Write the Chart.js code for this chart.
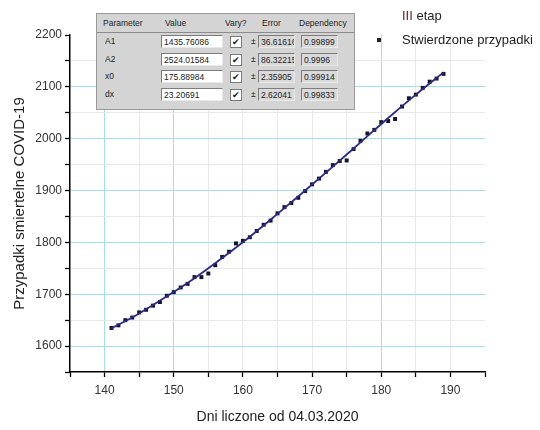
<!DOCTYPE html>
<html lang="pl">
<head>
  <meta charset="UTF-8" />
  <title>Przypadki smiertelne COVID-19 - III etap</title>
  <script src="https://cdn.jsdelivr.net/npm/chart.js"></script>
  <style>
    body {
      margin: 0;
      background: #ffffff;
      font-family: 'Liberation Sans', Arial, sans-serif;
    }
    #wrap {
      position: relative;
      width: 540px;
      height: 430px;
    }
    #fitBox {
      position: absolute;
      left: 96px;
      top: 13px;
      width: 257px;
      height: 95px;
      background: #d4d4d4;
      border: 1px solid #9a9a9a;
      font-size: 8.5px;
      color: #222;
    }
    #fitBox .hdr {
      position: absolute;
      top: 0;
      left: 0;
      right: 0;
      height: 18px;
      border-bottom: 1px solid #8c8c8c;
    }
    #fitBox span {
      position: absolute;
      white-space: nowrap;
      overflow: hidden;
      line-height: 13px;
    }
    #fitBox .field {
      height: 13px;
      padding-left: 2px;
      box-sizing: border-box;
      border: 1px solid #7c7c7c;
      border-right-color: #e8e8e8;
      border-bottom-color: #e8e8e8;
    }
    #fitBox .white { background: #ffffff; }
    #fitBox .grey { background: #d9d9d9; }
    #fitBox .chk {
      width: 10px;
      height: 10px;
      line-height: 10px;
      background: #fff;
      border: 1px solid #7c7c7c;
      text-align: center;
      font-size: 9px;
    }
  </style>
</head>
<body>
<div id="wrap">
  <canvas id="deathsChart"></canvas>
  <div id="fitBox"><div class="hdr"></div></div>
</div>

<script>
  // observed cumulative deaths, day counted from 04.03.2020
  const days = [141, 142, 143, 144, 145, 146, 147, 148, 149, 150,
                151, 152, 153, 154, 155, 156, 157, 158, 159, 160,
                161, 162, 163, 164, 165, 166, 167, 168, 169, 170,
                171, 172, 173, 174, 175, 176, 177, 178, 179, 180,
                181, 182, 183, 184, 185, 186, 187, 188, 189];
  const deaths = [1635, 1640, 1650, 1655, 1665, 1670, 1678, 1685, 1697, 1704,
                  1713, 1720, 1733, 1733, 1740, 1756, 1772, 1782, 1798, 1803,
                  1810, 1822, 1834, 1842, 1856, 1868, 1876, 1886, 1899, 1912,
                  1923, 1936, 1949, 1957, 1958, 1980, 1996, 2010, 2017, 2032,
                  2034, 2038, 2062, 2078, 2085, 2098, 2110, 2116, 2125];

  // fitted curve (III etap)
  const fitDays = [141, 145, 149, 153, 157, 161, 165, 169, 173, 177, 181, 185, 189];
  const fitDeaths = [1634, 1663, 1696, 1731, 1770, 1811, 1855, 1900, 1946, 1993, 2040, 2085, 2128];

  // fit parameters panel
  const paramNames = ['A1', 'A2', 'x0', 'dx'];
  const paramValues = ['1435.76086', '2524.01584', '175.88984', '23.20691'];
  const paramErrors = ['36.61616', '86.32215', '2.35905', '2.62041'];
  const paramDeps = ['0.99899', '0.9996', '0.99914', '0.99833'];
  const headers = ['Parameter', 'Value', 'Vary?', 'Error', 'Dependency'];

  // build the parameter panel
  const box = document.getElementById('fitBox');
  function addSpan(text, x, y, w, cls) {
    const s = document.createElement('span');
    s.textContent = text;
    s.style.left = x + 'px';
    s.style.top = y + 'px';
    if (w) s.style.width = w + 'px';
    if (cls) s.className = cls;
    box.appendChild(s);
    return s;
  }
  const headerX = [6, 68, 128, 165, 202];
  headers.forEach((h, i) => addSpan(h, headerX[i], 3));
  paramNames.forEach((name, i) => {
    const y = 21 + i * 17.7;
    addSpan(name, 8, y);
    addSpan(paramValues[i], 64, y, 62, 'field white');
    addSpan('\u2714', 133, y + 1, null, 'chk');
    addSpan('\u00b1', 154, y);
    addSpan(paramErrors[i], 161, y, 37, 'field grey');
    addSpan(paramDeps[i], 204, y, 37, 'field grey');
  });

  const cyan = '#a3e1e8';
  const lightGrey = '#e8e8e8';

  // legend text drawn in the upper right corner
  const legendText = {
    id: 'legendText',
    afterDraw(chart) {
      const ctx = chart.ctx;
      ctx.save();
      ctx.font = '13px "Liberation Sans", Arial, sans-serif';
      ctx.textBaseline = 'middle';
      ctx.fillStyle = '#581c24';
      ctx.fillText('III', 402, 16);
      const w = ctx.measureText('III').width;
      ctx.fillStyle = '#222';
      ctx.fillText(' etap', 402 + w, 16);
      ctx.fillRect(377, 38, 4, 4);
      ctx.fillText('Stwierdzone przypadki', 402, 40);
      ctx.restore();
    }
  };

  new Chart(document.getElementById('deathsChart'), {
    type: 'scatter',
    data: {
      datasets: [
        {
          label: 'III etap',
          data: fitDays.map((d, i) => ({ x: d, y: fitDeaths[i] })),
          showLine: true,
          borderColor: '#2a2a8a',
          borderWidth: 1.8,
          pointRadius: 0,
          cubicInterpolationMode: 'monotone',
          order: 0
        },
        {
          label: 'Stwierdzone przypadki',
          data: days.map((d, i) => ({ x: d, y: deaths[i] })),
          pointStyle: 'rect',
          pointRadius: 2.8,
          backgroundColor: '#15152a',
          borderColor: '#15152a',
          borderWidth: 0,
          order: 1
        }
      ]
    },
    options: {
      responsive: true,
      maintainAspectRatio: false,
      animation: false,
      layout: { padding: { top: 35, right: 55, left: 0, bottom: 0 } },
      plugins: {
        legend: { display: false },
        tooltip: { enabled: false }
      },
      scales: {
        x: {
          type: 'linear',
          min: 135,
          max: 195,
          afterFit: (scale) => { scale.height = 58; },
          ticks: {
            stepSize: 5,
            autoSkip: false,
            maxRotation: 0,
            padding: 6,
            color: '#333',
            font: { family: 'Liberation Sans', size: 12 },
            callback: (v) => (v % 10 === 0 ? v : '')
          },
          grid: {
            color: (c) => {
              const v = c.tick.value;
              if (v === 135 || v === 195) return 'rgba(0,0,0,0)';
              return (v === 140 || v === 150 || v === 180) ? cyan : lightGrey;
            },
            tickColor: '#000',
            tickLength: 5,
            tickWidth: 1.3
          },
          border: { color: '#000', width: 1.5 },
          title: {
            display: true,
            text: 'Dni liczone od 04.03.2020',
            color: '#222',
            font: { family: 'Liberation Sans', size: 14 },
            padding: { top: 4, bottom: 4 }
          }
        },
        y: {
          min: 1550,
          max: 2200,
          afterFit: (scale) => { scale.width = 70; },
          ticks: {
            stepSize: 50,
            autoSkip: false,
            padding: 3,
            color: '#333',
            font: { family: 'Liberation Sans', size: 12 },
            callback: (v) => (v % 100 === 0 ? v : '')
          },
          grid: {
            color: (c) => {
              const v = c.tick.value;
              if (v === 1550 || v === 2200) return 'rgba(0,0,0,0)';
              return v % 100 === 0 ? cyan : lightGrey;
            },
            tickColor: '#000',
            tickLength: 5,
            tickWidth: 1.3
          },
          border: { color: '#000', width: 1.5 },
          title: {
            display: true,
            text: 'Przypadki smiertelne COVID-19',
            color: '#222',
            font: { family: 'Liberation Sans', size: 15 },
            padding: { top: 11, bottom: 4 }
          }
        }
      }
    },
    plugins: [legendText]
  });
</script>
</body>
</html>
